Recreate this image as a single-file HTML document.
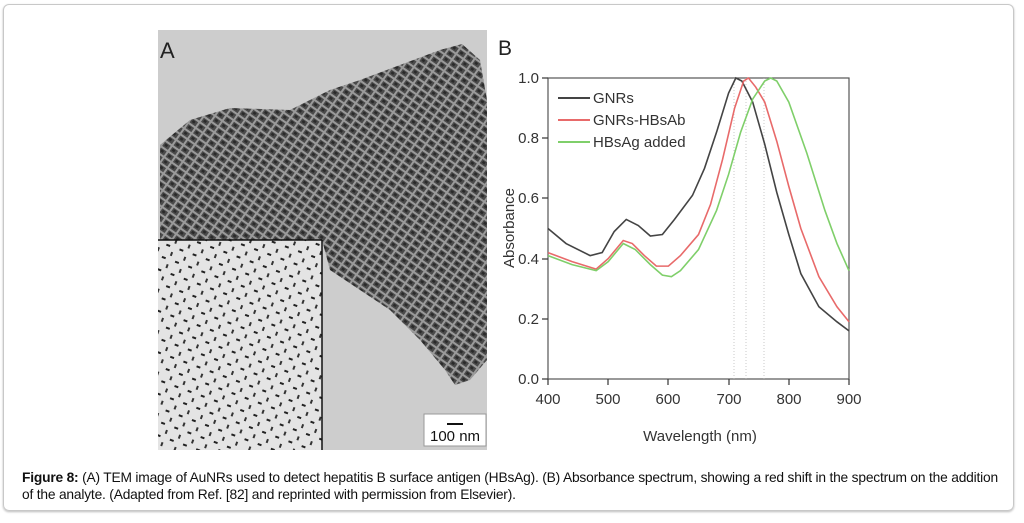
<!DOCTYPE html>
<html><head><meta charset="utf-8"><style>
body{margin:0;width:1024px;height:523px;background:#fff;overflow:hidden;font-family:"Liberation Sans",sans-serif}
.frame{position:absolute;left:3px;top:4px;width:1009px;height:505px;border:1px solid #c8c8c8;border-radius:6px;box-shadow:0 1px 2px #bbb}
.cap{position:absolute;left:22px;top:469px;width:1000px;white-space:nowrap;font-size:14px;letter-spacing:-0.2px;line-height:17px;color:#111;transform:scaleX(0.985);transform-origin:0 0}
</style></head><body>
<div class="frame"></div>
<svg width="1024" height="523" style="position:absolute;left:0;top:0">
<defs>
<pattern id="rods" width="9" height="7" patternUnits="userSpaceOnUse" patternTransform="rotate(35)">
<rect width="9" height="7" fill="#9a9a9a"/>
<rect x="0.5" y="0.5" width="7" height="5" fill="#4a4a4a"/>
<rect x="2" y="1.5" width="3" height="2.5" fill="#2a2a2a"/>
</pattern>
<pattern id="dots" width="14" height="13" patternUnits="userSpaceOnUse" patternTransform="rotate(20)">
<rect width="14" height="13" fill="#e4e4e4"/>
<rect x="2" y="3" width="4" height="2" fill="#222"/>
<rect x="9" y="9" width="2" height="4" fill="#333"/>
</pattern>
</defs>
<rect x="158" y="30" width="329" height="420" fill="#cdcdcd"/>
<polygon points="160,145 190,120 230,108 290,110 330,90 360,80 400,65 440,50 462,44 480,60 487,100 487,360 470,380 455,385 445,370 420,340 390,310 360,290 330,270 322,240 160,245" fill="url(#rods)"/>
<rect x="158" y="240" width="164" height="210" fill="url(#dots)"/>
<line x1="158" y1="240" x2="322" y2="240" stroke="#111" stroke-width="1.5"/>
<line x1="322" y1="240" x2="322" y2="450" stroke="#111" stroke-width="1.5"/>
<rect x="424" y="414" width="62" height="32" fill="#fff" stroke="#999"/>
<line x1="447" y1="424" x2="463" y2="424" stroke="#111" stroke-width="2"/>
<text x="430" y="441" font-size="15" fill="#111">100 nm</text>
<text x="160" y="58" font-size="22" fill="#222">A</text>
<text x="498" y="55" font-size="21" fill="#222">B</text>
<rect x="548" y="78" width="301" height="301" fill="none" stroke="#555" stroke-width="1.2"/>
<g stroke="#bbb" stroke-width="0.8" stroke-dasharray="1,2">
<line x1="734" y1="78" x2="734" y2="379"/><line x1="746" y1="78" x2="746" y2="379"/><line x1="764" y1="78" x2="764" y2="379"/>
</g>
<g stroke="#333" stroke-width="1.2">
<line x1="548" y1="379" x2="548" y2="385"/><line x1="608" y1="379" x2="608" y2="385"/><line x1="668" y1="379" x2="668" y2="385"/><line x1="729" y1="379" x2="729" y2="385"/><line x1="789" y1="379" x2="789" y2="385"/><line x1="849" y1="379" x2="849" y2="385"/>
<line x1="542" y1="78" x2="548" y2="78"/><line x1="542" y1="138" x2="548" y2="138"/><line x1="542" y1="198" x2="548" y2="198"/><line x1="542" y1="259" x2="548" y2="259"/><line x1="542" y1="319" x2="548" y2="319"/><line x1="542" y1="379" x2="548" y2="379"/>
</g>
<g font-size="15" fill="#333" text-anchor="middle">
<text x="548" y="404">400</text><text x="608" y="404">500</text><text x="668" y="404">600</text><text x="729" y="404">700</text><text x="789" y="404">800</text><text x="849" y="404">900</text>
<text x="700" y="441">Wavelength (nm)</text>
</g>
<g font-size="15" fill="#333" text-anchor="end">
<text x="539" y="83">1.0</text><text x="539" y="143">0.8</text><text x="539" y="203">0.6</text><text x="539" y="264">0.4</text><text x="539" y="324">0.2</text><text x="539" y="384">0.0</text>
</g>
<text transform="translate(514,228) rotate(-90)" font-size="15" fill="#333" text-anchor="middle">Absorbance</text>
<g transform="translate(548,379) scale(0.602,-301) translate(-400,0)" fill="none" stroke-width="1.6">
<polyline vector-effect="non-scaling-stroke" stroke="#444" points="400,0.5 430,0.45 470,0.41 490,0.42 510,0.49 530,0.53 550,0.51 570,0.475 590,0.48 610,0.53 640,0.61 660,0.7 680,0.82 700,0.95 712,1.0 722,0.99 740,0.92 760,0.78 780,0.62 800,0.48 820,0.35 850,0.24 880,0.19 900,0.16"/>
<polyline vector-effect="non-scaling-stroke" stroke="#e86a6a" points="400,0.42 440,0.39 480,0.365 500,0.4 525,0.46 540,0.45 560,0.41 580,0.375 600,0.375 620,0.41 650,0.48 670,0.58 690,0.73 710,0.9 725,0.99 733,1.0 745,0.97 760,0.92 780,0.79 800,0.64 820,0.5 850,0.34 880,0.24 900,0.19"/>
<polyline vector-effect="non-scaling-stroke" stroke="#7fcf6a" points="400,0.41 440,0.38 480,0.36 500,0.39 525,0.45 545,0.43 570,0.38 590,0.345 605,0.34 620,0.36 650,0.43 680,0.56 700,0.68 720,0.82 740,0.93 760,0.99 770,1.0 780,0.99 800,0.92 830,0.75 860,0.56 880,0.45 900,0.36"/>
</g>
<g stroke-width="2">
<line x1="558" y1="98" x2="590" y2="98" stroke="#444"/>
<line x1="558" y1="120" x2="590" y2="120" stroke="#e86a6a"/>
<line x1="558" y1="142" x2="590" y2="142" stroke="#7fcf6a"/>
</g>
<g font-size="15" fill="#333">
<text x="593" y="103">GNRs</text><text x="593" y="125">GNRs-HBsAb</text><text x="593" y="147">HBsAg added</text>
</g>
</svg>
<div class="cap"><b>Figure 8:</b> (A) TEM image of AuNRs used to detect hepatitis B surface antigen (HBsAg). (B) Absorbance spectrum, showing a red shift in the spectrum on the addition<br>of the analyte. (Adapted from Ref. [82] and reprinted with permission from Elsevier).</div>
</body></html>
